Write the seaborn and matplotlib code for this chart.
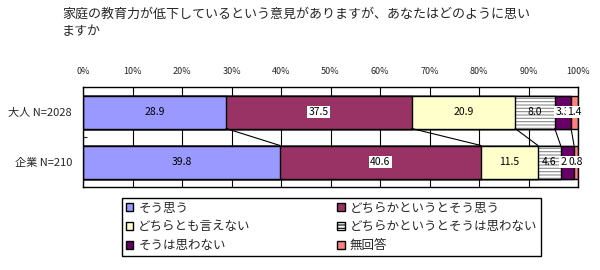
import matplotlib
matplotlib.use("Agg")
import matplotlib.pyplot as plt
from matplotlib.patches import Patch
import numpy as np
import pandas as pd
import seaborn as sns

sns.set_theme(style="white")
plt.rcParams['font.family'] = ['Noto Sans CJK JP', 'DejaVu Sans']
plt.rcParams['hatch.linewidth'] = 0.8

title = "家庭の教育力が低下しているという意見がありますが、あなたはどのように思い\nますか"
groups = ["大人 N=2028", "企業 N=210"]
series = ["そう思う", "どちらかというとそう思う", "どちらとも言えない",
          "どちらかというとそうは思わない", "そうは思わない", "無回答"]
adult = [28.9, 37.5, 20.9, 8.0, 3.3, 1.4]
company = [39.8, 40.6, 11.5, 4.6, 2.7, 0.8]
colors = ["#9999FF", "#993366", "#FFFFCC", "#FFFFFF", "#660066", "#FF8080"]
dark = [False, True, False, False, True, True]
xticks = [0, 10, 20, 30, 40, 50, 60, 70, 80, 90, 100]

vals = np.array([adult, company])
cums = np.cumsum(vals, axis=1)
lefts = cums - vals

fig = plt.figure(figsize=(6, 2.7), dpi=100)
ax = fig.add_axes([83/600, 1-187/270, 495/600, 100/270])

bar_h = 0.66
# stacked bars: draw cumulative totals from the last series to the first
for i in reversed(range(len(series))):
    df = pd.DataFrame({"group": groups, "total": cums[:, i]})
    if i == 3:
        sns.barplot(data=df, x="total", y="group", orient="h", ax=ax,
                    width=bar_h, color="white", saturation=1,
                    linewidth=0, hatch="-----")
        for p in ax.containers[-1]:
            p.set_edgecolor("#8a8a8a")
            p.set_linewidth(0)
        sns.barplot(data=df, x="total", y="group", orient="h", ax=ax,
                    width=bar_h, fill=False, edgecolor="black", linewidth=1.0)
    else:
        sns.barplot(data=df, x="total", y="group", orient="h", ax=ax,
                    width=bar_h, color=colors[i], saturation=1,
                    edgecolor="black", linewidth=1.0)

# value labels
for i in range(len(series)):
    for g in range(len(groups)):
        kw = {}
        if dark[i]:
            kw["bbox"] = dict(facecolor="white", edgecolor="none", pad=1)
        ax.text(lefts[g, i] + vals[g, i] / 2, g, f"{vals[g, i]:.1f}",
                ha="center", va="center", fontsize=7.5, color="black",
                zorder=5, **kw)

# connector lines between the two bars
for j in range(len(series) - 1):
    ax.plot([cums[0, j], cums[1, j]], [0 + bar_h/2, 1 - bar_h/2],
            color="black", lw=0.8, zorder=3)

ax.set_xlim(0, 100)
ax.set_ylim(1.5, -0.5)
ax.set_xticks(xticks)
ax.set_xticklabels([f"{t}%" for t in xticks], fontsize=6.5)
ax.xaxis.tick_top()
ax.tick_params(axis="x", length=0, pad=8)
ax.tick_params(axis="y", length=0, labelsize=8, pad=8)
ax.set_yticks([0.5], minor=True)
ax.tick_params(axis="y", which="minor", length=3, direction="in", width=0.8, left=True)
ax.set_xlabel("")
ax.set_ylabel("")
ax.grid(axis="x", color="black", lw=0.8)
ax.set_axisbelow(True)
for s in ax.spines.values():
    s.set_visible(True)
    s.set_color("black")
    s.set_linewidth(1.0)

fig.text(62/600, 1-8/270, title, fontsize=9.4, va="top", ha="left", linespacing=1.4)

handles = []
for i, name in enumerate(series):
    if i == 3:
        handles.append(Patch(facecolor="white", edgecolor="black", hatch="-----", label=name))
    else:
        handles.append(Patch(facecolor=colors[i], edgecolor="black", label=name))
order = [0, 2, 4, 1, 3, 5]
leg = fig.legend([handles[k] for k in order], [series[k] for k in order],
                 loc="upper left", bbox_to_anchor=(122/600, 1-198/270),
                 ncol=2, fontsize=9.0, frameon=True, fancybox=False,
                 edgecolor="black", framealpha=1, borderpad=0.3,
                 labelspacing=0.45, handlelength=0.6, handleheight=0.6,
                 handletextpad=0.4, columnspacing=6.9, borderaxespad=0)
leg.get_frame().set_linewidth(1.0)

fig.savefig("out.png", dpi=100)
